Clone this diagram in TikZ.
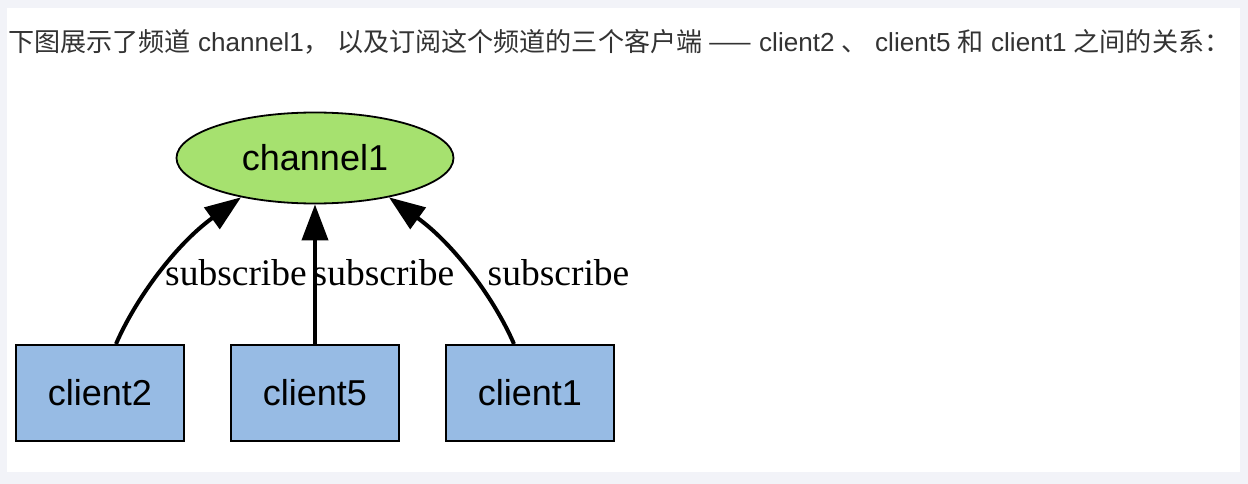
\documentclass[tikz,border=0pt]{standalone}
\usepackage{fontspec}
\usepackage{graphicx}
\setmainfont{Liberation Sans}
\newfontfamily\cjkfont{Noto Sans CJK SC}
\newfontfamily\labelfont{Liberation Serif}
\usetikzlibrary{arrows.meta,shapes.geometric}
\definecolor{pagebg}{HTML}{F2F3F8}
\definecolor{chanfill}{HTML}{A6E16F}
\definecolor{clientfill}{HTML}{97BBE4}
\definecolor{introtext}{HTML}{333333}
\begin{document}
\begin{tikzpicture}[x=1pt,y=-1pt,
  channelnode/.style={ellipse,draw=black,line width=1.8pt,fill=chanfill,minimum width=277pt,minimum height=91pt,inner sep=0pt,font=\fontsize{36}{36}\selectfont},
  clientnode/.style={rectangle,draw=black,line width=2pt,fill=clientfill,minimum width=168pt,minimum height=96pt,inner sep=0pt,font=\fontsize{36}{36}\selectfont},
  subedge/.style={line width=4pt,-{Triangle[length=36pt,width=26pt]}},
  edgelabel/.style={anchor=base,inner sep=0pt,font=\labelfont\fontsize{37.5}{37.5}\selectfont},
]
\useasboundingbox (0,0) rectangle (1248,484);
\fill[pagebg] (0,0) rectangle (1248,484);
\fill[white] (7,8) rectangle (1240,472);

\node[anchor=base west,inner sep=0pt,text=introtext] (intro) at (8,52)
  {\resizebox{1222pt}{!}{{\cjkfont 下图展示了频道} channel1{\cjkfont ，} {\cjkfont 以及订阅这个频道的三个客户端 ——} client2 {\cjkfont 、} client5 {\cjkfont 和} client1 {\cjkfont 之间的关系：}}};

\node[channelnode] (ch) at (315,158) {channel1};
\node[clientnode] (c2) at (100,393) {client2};
\node[clientnode] (c5) at (315,393) {client5};
\node[clientnode] (c1) at (530,393) {client1};

\draw[subedge] ([xshift=16pt]c2.north) .. controls (135,300) and (175,245) .. (ch.208);
\draw[subedge] (c5.north) -- (ch.south);
\draw[subedge] ([xshift=-16pt]c1.north) .. controls (495,300) and (455,245) .. (ch.332);

\node[edgelabel] (l2) at (236,285) {subscribe};
\node[edgelabel] (l5) at (383.5,285) {subscribe};
\node[edgelabel] (l1) at (558.5,285) {subscribe};
\end{tikzpicture}
\end{document}
